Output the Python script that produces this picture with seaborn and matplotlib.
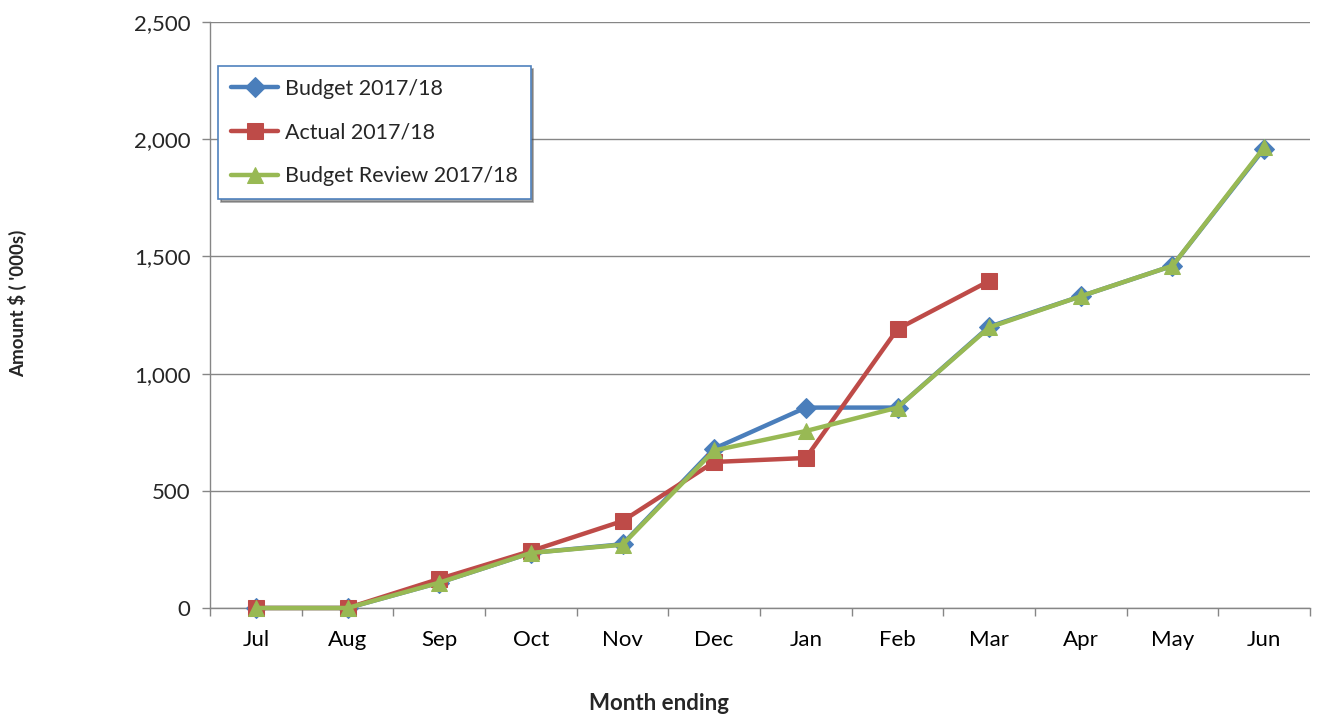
import numpy as np
import pandas as pd
import matplotlib
matplotlib.use("Agg")
import matplotlib.pyplot as plt
import seaborn as sns

months = ["Jul", "Aug", "Sep", "Oct", "Nov", "Dec", "Jan", "Feb", "Mar", "Apr", "May", "Jun"]
budget = [0, 0, 108, 235, 272, 680, 855, 855, 1200, 1330, 1460, 1960]
actual = [0, 0, 124, 243, 371, 623, 640, 1190, 1395]
review = [0, 0, 108, 235, 270, 672, 755, 855, 1197, 1330, 1460, 1965]

sns.set_theme(style="white")
plt.rcParams['font.family'] = ['Lato', 'DejaVu Sans']

fig = plt.figure(figsize=(13.21, 7.16), dpi=100)
ax = fig.add_axes([210/1321, 1-608/716, 1100/1321, 586/716])

series = [
    ("Budget 2017/18", budget, "#4A7EBB", "D", 10),
    ("Actual 2017/18", actual, "#BE4B48", "s", 11),
    ("Budget Review 2017/18", review, "#98B954", "^", 12),
]
for name, vals, col, mk, ms in series:
    df = pd.DataFrame({"month": months[:len(vals)], "value": vals})
    df["pos"] = np.arange(len(vals))
    sns.lineplot(data=df, x="pos", y="value", ax=ax, color=col, marker=mk,
                 markersize=ms, markeredgecolor=col, linewidth=3.2, label=name,
                 sort=False, clip_on=False, zorder=3)

ax.set_xlim(-0.5, len(months) - 0.5)
ax.set_ylim(0, 2500)
ax.set_yticks([0, 500, 1000, 1500, 2000, 2500])
ax.set_yticklabels(["0", "500", "1,000", "1,500", "2,000", "2,500"])
ax.set_xticks(np.arange(len(months)))
ax.set_xticklabels(months)
ax.set_xticks(np.arange(-0.5, len(months)), minor=True)
ax.tick_params(axis="x", which="major", length=0, labelsize=16, pad=16, colors="black")
ax.tick_params(axis="x", which="minor", length=6, width=1, color="#868686", direction="out", bottom=True)
ax.tick_params(axis="y", which="major", length=6, width=1, color="#868686", direction="out", left=True, labelsize=16, pad=8)
ax.grid(axis="y", color="#868686", linewidth=1)
ax.set_axisbelow(True)
for s in ["top", "right"]:
    ax.spines[s].set_visible(False)
for s in ["left", "bottom"]:
    ax.spines[s].set_color("#868686")
    ax.spines[s].set_linewidth(1)

ax.set_xlabel("")
ax.set_ylabel("")
fig.text(18/1321, 1-303/716, "Amount $ ( '000s)", rotation=90, ha="center", va="center",
         fontsize=13.5, fontweight="bold")
fig.text(659/1321, 1-703/716, "Month ending", ha="center", va="center",
         fontsize=16, fontweight="bold")

leg = ax.legend(loc="upper left", bbox_to_anchor=((218-210)/1100, (608-66)/586),
                frameon=True, fancybox=False, shadow=True, fontsize=15.5,
                handlelength=2.2, borderpad=0.6, labelspacing=1.1, handletextpad=0.3,
                borderaxespad=0)
leg.get_frame().set_edgecolor("#4F81BD")
leg.get_frame().set_linewidth(1.2)

fig.savefig("out.png", dpi=100)
